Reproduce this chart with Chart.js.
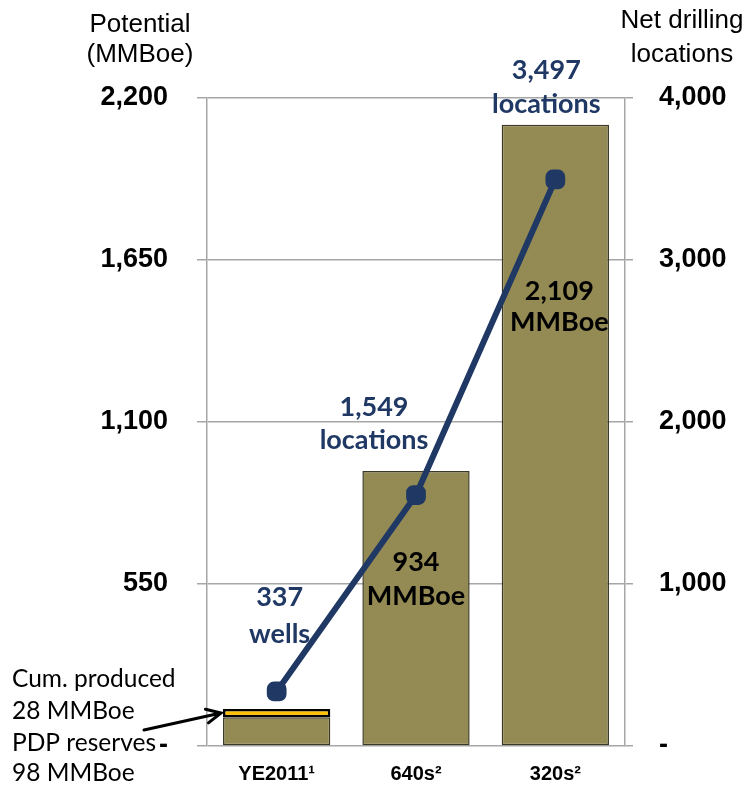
<!DOCTYPE html>
<html lang="en">
<head>
<meta charset="UTF-8">
<title>Potential and net drilling locations</title>
<style>
  body { margin: 0; background: #fff; }
  #wrap { width: 746px; height: 786px; }
</style>
<script src="https://cdn.jsdelivr.net/npm/chart.js"></script>
</head>
<body>
<div id="wrap"><canvas id="myChart" width="746" height="786"></canvas></div>
<script>
const categories = ['YE2011¹', '640s²', '320s²'];
const potential = [98, 934, 2109];        // MMBoe (YE2011 = PDP reserves)
const cumProduced = [28, null, null];     // MMBoe
const netLocations = [337, 1549, 3497];
const lineLabels = [['337', 'wells'], ['1,549', 'locations'], ['3,497', 'locations']];
const barLabels = [null, ['934', 'MMBoe'], ['2,109', 'MMBoe']];
const leftTicks = [0, 550, 1100, 1650, 2200];
const rightTicks = [0, 1000, 2000, 3000, 4000];

const navy = '#1f3864';
const olive = '#948a54';
const gold = '#ffc000';
const gridGray = '#a6a6a6';

// callout placement relative to its mark: [dx, dy line 1, dy line 2]
const lineLabelOffsets = [[3, -94, -57], [-42, -88, -55], [-9, -109, -75]];
const barLabelOffsets = [null, [0, 91, 125], [4, 166, 197]];

const fmt = v => v === 0 ? '-' : v.toLocaleString('en-US');
const tickFont = { family: 'Liberation Sans', size: 27, weight: 'bold' };

const extras = {
    id: 'extras',
    afterDatasetsDraw(chart) {
        const ctx = chart.ctx;
        ctx.save();
        ctx.textAlign = 'center';
        ctx.textBaseline = 'middle';

        // locations / wells callouts
        ctx.fillStyle = navy;
        ctx.font = 'bold 27px Lato';
        chart.getDatasetMeta(2).data.forEach((pt, i) => {
            const [dx, y1, y2] = lineLabelOffsets[i];
            ctx.fillText(lineLabels[i][0], pt.x + dx, pt.y + y1);
            ctx.fillText(lineLabels[i][1], pt.x + dx, pt.y + y2);
        });

        // potential callouts inside the bars
        ctx.fillStyle = '#000';
        chart.getDatasetMeta(0).data.forEach((bar, i) => {
            if (!barLabels[i]) return;
            const [dx, y1, y2] = barLabelOffsets[i];
            ctx.fillText(barLabels[i][0], bar.x + dx, bar.y + y1);
            ctx.fillText(barLabels[i][1], bar.x + dx, bar.y + y2);
        });

        // axis titles
        ctx.textBaseline = 'alphabetic';
        ctx.font = '26px "Liberation Sans"';
        ctx.fillText('Potential', 140, 32);
        ctx.fillText('(MMBoe)', 140, 62);
        ctx.fillText('Net drilling', 682, 28);
        ctx.fillText('locations', 682, 62);

        // note for the YE2011 stack
        ctx.textAlign = 'left';
        ctx.font = '24.5px Lato';
        ctx.fillText('Cum. produced', 12, 687);
        ctx.fillText('28 MMBoe', 12, 719);
        ctx.fillText('PDP reserves', 12, 751);
        ctx.fillText('98 MMBoe', 12, 781);

        // arrow pointing at the cum. produced segment
        const seg = chart.getDatasetMeta(1).data[0];
        const tipX = seg.x - seg.width / 2 - 2;
        const tipY = (seg.y + seg.base) / 2;
        const fromX = 144, fromY = 730;
        const ang = Math.atan2(tipY - fromY, tipX - fromX);
        ctx.strokeStyle = '#000';
        ctx.lineWidth = 3;
        ctx.lineCap = 'round';
        ctx.beginPath();
        ctx.moveTo(fromX, fromY);
        ctx.lineTo(tipX, tipY);
        ctx.moveTo(tipX - 16 * Math.cos(ang - 0.45), tipY - 16 * Math.sin(ang - 0.45));
        ctx.lineTo(tipX, tipY);
        ctx.lineTo(tipX - 16 * Math.cos(ang + 0.45), tipY - 16 * Math.sin(ang + 0.45));
        ctx.stroke();
        ctx.restore();
    }
};

// fixed axis widths, no extra room reserved for the end labels
const fitWidth = w => s => { s.width = w; s.paddingTop = 0; s.paddingBottom = 0; };

const ctx = document.getElementById('myChart').getContext('2d');
new Chart(ctx, {
    data: {
        labels: categories,
        datasets: [
            {
                type: 'bar', label: 'Potential', data: potential, yAxisID: 'y',
                backgroundColor: olive, borderColor: '#3b3826', borderWidth: 1.5,
                borderSkipped: false, barPercentage: 0.77, categoryPercentage: 1, order: 1
            },
            {
                type: 'bar', label: 'Cum. produced', data: cumProduced, yAxisID: 'y',
                backgroundColor: gold, borderColor: '#000', borderWidth: 2.5,
                borderSkipped: false, barPercentage: 0.77, categoryPercentage: 1, order: 2
            },
            {
                type: 'line', label: 'Net drilling locations', data: netLocations, yAxisID: 'y1',
                borderColor: navy, borderWidth: 6, pointStyle: 'rectRounded', pointRadius: 8,
                pointBackgroundColor: navy, pointBorderColor: navy, tension: 0, order: 0
            }
        ]
    },
    options: {
        responsive: false,
        animation: false,
        layout: { padding: { top: 98, left: 0, right: 0, bottom: 0 } },
        plugins: { legend: { display: false }, tooltip: { enabled: false } },
        scales: {
            x: {
                stacked: true,
                grid: { display: false, drawTicks: false },
                border: { display: false },
                afterFit: s => { s.height = 40; s.paddingLeft = 0; s.paddingRight = 0; },
                ticks: { color: '#000', padding: 16, font: { family: 'Liberation Sans', size: 20, weight: 'bold' } }
            },
            y: {
                position: 'left', stacked: true, min: 0, max: 2200,
                afterBuildTicks: s => { s.ticks = leftTicks.map(v => ({ value: v })); },
                afterFit: fitWidth(207),
                ticks: { callback: fmt, padding: 29, color: '#000', font: tickFont },
                grid: { color: gridGray, lineWidth: 1.5, tickLength: 10 },
                border: { display: true, color: gridGray, width: 1.5 }
            },
            y1: {
                position: 'right', min: 0, max: 4000,
                afterBuildTicks: s => { s.ticks = rightTicks.map(v => ({ value: v })); },
                afterFit: fitWidth(121),
                ticks: { callback: fmt, padding: 26, color: '#000', font: tickFont },
                grid: { drawOnChartArea: false, color: gridGray, lineWidth: 1.5, tickLength: 8 },
                border: { display: true, color: gridGray, width: 1.5 }
            }
        }
    },
    plugins: [extras]
});
</script>
</body>
</html>
